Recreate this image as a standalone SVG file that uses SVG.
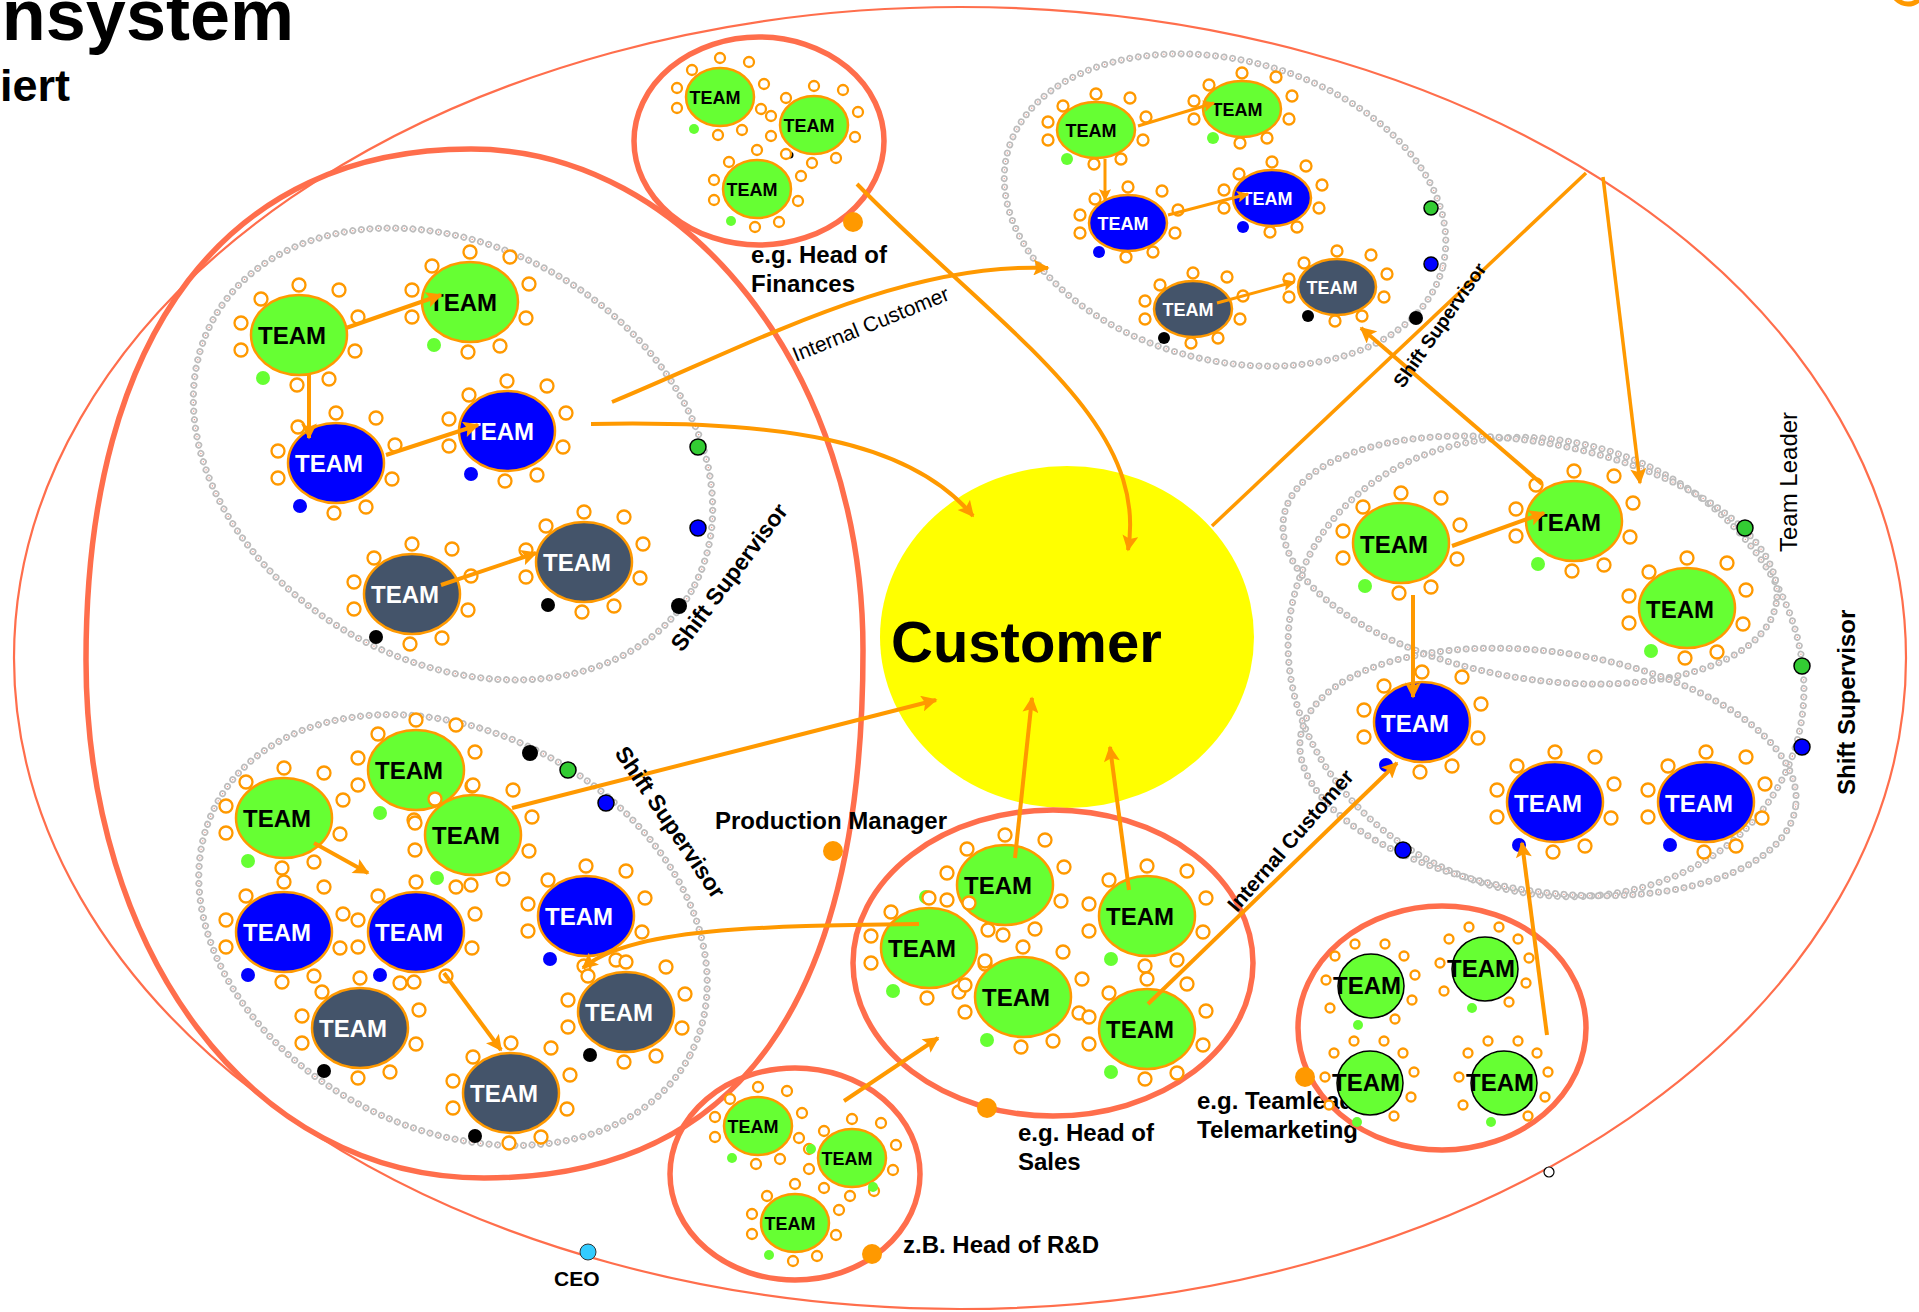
<svg xmlns="http://www.w3.org/2000/svg" width="1919" height="1312" viewBox="0 0 1919 1312">
<style>
.reg{fill:none;stroke:#FF6E4C;stroke-width:5.5}
.outer{fill:none;stroke:#FF6E4C;stroke-width:2.2}
.c1{fill:none;stroke:#BDBDBD;stroke-width:7;stroke-dasharray:0 8.6;stroke-linecap:round}
.c2{fill:none;stroke:#fff;stroke-width:3.6;stroke-dasharray:0 8.6;stroke-linecap:round}
.c3{fill:none;stroke:#F08A7A;stroke-width:1.3;stroke-dasharray:0 8.6;stroke-linecap:round}
.pet circle{fill:#fff;stroke:#FF9900;stroke-width:2.3}
.tg{fill:#66FF33;stroke:#FF9900;stroke-width:2.5}
.tb{fill:#0000FF;stroke:#FF9900;stroke-width:2.5}
.ts{fill:#44546A;stroke:#FF9900;stroke-width:2.5}
.tk{fill:#66FF33;stroke:#000;stroke-width:1.5}
.dg{fill:#66FF33}.db{fill:#0000FF}.dk{fill:#000}
.sg{fill:#33CC33;stroke:#000;stroke-width:1.5}.sb{fill:#0000FF;stroke:#000;stroke-width:1.5}.sk{fill:#000}
.mgr{fill:#FF9900}
.tx{font-family:"Liberation Sans",Arial,sans-serif;font-weight:bold;text-anchor:middle;fill:#000}
.tL{font-size:24px}.tS{font-size:18px}
.w{fill:#fff}
.lb{font-family:"Liberation Sans",Arial,sans-serif;font-weight:bold;font-size:24px;fill:#000}
.lr{font-family:"Liberation Sans",Arial,sans-serif;font-size:24px;fill:#000}
.con{fill:none;stroke:#FF9900;stroke-width:4}
.thin{stroke-width:3}
</style>
<defs>
<marker id="ah" viewBox="0 0 10 10" refX="9" refY="5" markerWidth="18" markerHeight="16" markerUnits="userSpaceOnUse" orient="auto"><path d="M0,0 L10,5 L0,10 L2,5 z" fill="#FF9900"/></marker>
<marker id="ahs" viewBox="0 0 10 10" refX="9" refY="5" markerWidth="13" markerHeight="12" markerUnits="userSpaceOnUse" orient="auto"><path d="M0,0 L10,5 L0,10 L2,5 z" fill="#FF9900"/></marker>
<g id="pL" class="pet"><circle cx="0" cy="-50" r="6.5"/><circle cx="40" cy="-45" r="6.5"/><circle cx="59" cy="-18" r="6.5"/><circle cx="56" cy="16" r="6.5"/><circle cx="30" cy="44" r="6.5"/><circle cx="-2" cy="50" r="6.5"/><circle cx="-58" cy="15" r="6.5"/><circle cx="-58" cy="-12" r="6.5"/><circle cx="-38" cy="-36" r="6.5"/></g>
<g id="pM" class="pet"><circle cx="-33" cy="-24" r="5.5"/><circle cx="0" cy="-36" r="5.5"/><circle cx="34" cy="-32" r="5.5"/><circle cx="50" cy="-13" r="5.5"/><circle cx="47" cy="10" r="5.5"/><circle cx="25" cy="29" r="5.5"/><circle cx="-2" cy="34" r="5.5"/><circle cx="-48" cy="10" r="5.5"/><circle cx="-48" cy="-8" r="5.5"/></g>
<g id="pS" class="pet"><circle cx="0" cy="-39" r="5"/><circle cx="29" cy="-35" r="5"/><circle cx="44" cy="-13" r="5"/><circle cx="41" cy="12" r="5"/><circle cx="22" cy="33" r="5"/><circle cx="-2" cy="38" r="5"/><circle cx="-43" cy="11" r="5"/><circle cx="-43" cy="-9" r="5"/><circle cx="-28" cy="-27" r="5"/></g>
<g id="pK" class="pet"><circle cx="-16" cy="-42" r="4.5"/><circle cx="14" cy="-42" r="4.5"/><circle cx="33" cy="-30" r="4.5"/><circle cx="44" cy="-11" r="4.5"/><circle cx="41" cy="14" r="4.5"/><circle cx="24" cy="33" r="4.5"/><circle cx="-41" cy="22" r="4.5"/><circle cx="-45" cy="-6" r="4.5"/><circle cx="-36" cy="-30" r="4.5"/></g>
<ellipse id="e1" cx="0" cy="0" rx="275" ry="207" transform="translate(453,454) rotate(30)"/>
<ellipse id="e2" cx="0" cy="0" rx="268" ry="198" transform="translate(453,930) rotate(28)"/>
<ellipse id="e3" cx="0" cy="0" rx="225" ry="150" transform="translate(1225,210) rotate(15)"/>
<ellipse id="e4" cx="0" cy="0" rx="250" ry="118" transform="translate(1530,560) rotate(10)"/>
<ellipse id="e5" cx="0" cy="0" rx="250" ry="120" transform="translate(1548,772) rotate(8)"/>
<ellipse id="e6" cx="0" cy="0" rx="262" ry="225" transform="translate(1546,667) rotate(20)"/>
</defs>

<g id="title">
<text class="lb" x="294" y="40" text-anchor="end" style="font-size:72px">nsystem</text>
<text class="lb" x="70" y="101" text-anchor="end" style="font-size:45px">iert</text>
</g>

<g id="company">
<ellipse class="outer" cx="960" cy="658" rx="946" ry="651"/>
<circle cx="1908" cy="-12" r="16" fill="none" stroke="#FF9900" stroke-width="5"/>
<circle cx="588" cy="1252" r="8" fill="#33CCFF" stroke="#333" stroke-width="1"/>
<circle cx="1549" cy="1172" r="5" fill="#fff" stroke="#000" stroke-width="1.2"/>
</g>

<g id="production">
<path class="reg" d="M471,149 C688,149 863,374 863,650 C863,1000 740,1178 484,1178 C250,1178 86,950 86,660 C86,330 230,149 471,149 Z"/>
<circle class="mgr" cx="833" cy="851" r="10"/>
</g>

<g id="shift-groups">
<use href="#e1" class="c1"/><use href="#e1" class="c2"/><use href="#e1" class="c3"/>
<use href="#e2" class="c1"/><use href="#e2" class="c2"/><use href="#e2" class="c3"/>
<use href="#e3" class="c1"/><use href="#e3" class="c2"/><use href="#e3" class="c3"/>
<use href="#e6" class="c1"/><use href="#e6" class="c2"/><use href="#e6" class="c3"/>
<use href="#e4" class="c1"/><use href="#e4" class="c2"/><use href="#e4" class="c3"/>
<use href="#e5" class="c1"/><use href="#e5" class="c2"/><use href="#e5" class="c3"/>
</g>

<g id="customer">
<ellipse cx="1067" cy="637" rx="187" ry="171" fill="#FFFF00"/>
<text class="lb" x="891" y="662" style="font-size:58px">Customer</text>
</g>

<g id="finance">
<ellipse class="reg" cx="759" cy="141" rx="125" ry="104"/>
<circle class="mgr" cx="853" cy="222" r="10"/>
<g id="F1" transform="translate(720,97)"><use href="#pS"/><ellipse class="tg" rx="34" ry="29"/><circle class="dg" cx="-26" cy="32" r="5"/><text class="tx tS" x="-5" y="7">TEAM</text></g>
<g id="F2" transform="translate(814,125)"><use href="#pS"/><ellipse class="tg" rx="34" ry="29"/><circle class="dk" cx="-24" cy="30" r="3.5"/><text class="tx tS" x="-5" y="7">TEAM</text></g>
<g id="F3" transform="translate(757,189)"><use href="#pS"/><ellipse class="tg" rx="34" ry="29"/><circle class="dg" cx="-26" cy="32" r="5"/><text class="tx tS" x="-5" y="7">TEAM</text></g>
</g>

<g id="shift-upper-left">
<g id="B1" transform="translate(299,335)"><use href="#pL"/><ellipse class="tg" rx="48" ry="40"/><circle class="dg" cx="-36" cy="43" r="7"/><text class="tx tL" x="-7" y="9">TEAM</text></g>
<g id="B2" transform="translate(470,302)"><use href="#pL"/><ellipse class="tg" rx="48" ry="40"/><circle class="dg" cx="-36" cy="43" r="7"/><text class="tx tL" x="-7" y="9">TEAM</text></g>
<g id="B3" transform="translate(336,463)"><use href="#pL"/><ellipse class="tb" rx="48" ry="40"/><circle class="db" cx="-36" cy="43" r="7"/><text class="tx tL w" x="-7" y="9">TEAM</text></g>
<g id="B4" transform="translate(507,431)"><use href="#pL"/><ellipse class="tb" rx="48" ry="40"/><circle class="db" cx="-36" cy="43" r="7"/><text class="tx tL w" x="-7" y="9">TEAM</text></g>
<g id="B5" transform="translate(412,594)"><use href="#pL"/><ellipse class="ts" rx="48" ry="40"/><circle class="dk" cx="-36" cy="43" r="7"/><text class="tx tL w" x="-7" y="9">TEAM</text></g>
<g id="B6" transform="translate(584,562)"><use href="#pL"/><ellipse class="ts" rx="48" ry="40"/><circle class="dk" cx="-36" cy="43" r="7"/><text class="tx tL w" x="-7" y="9">TEAM</text></g>
<circle class="sg" cx="698" cy="447" r="8"/><circle class="sb" cx="698" cy="528" r="8"/><circle class="sk" cx="679" cy="606" r="8"/>
</g>

<g id="shift-lower-left">
<g id="L1" transform="translate(284,818)"><use href="#pL"/><ellipse class="tg" rx="48" ry="40"/><circle class="dg" cx="-36" cy="43" r="7"/><text class="tx tL" x="-7" y="9">TEAM</text></g>
<g id="L2" transform="translate(416,770)"><use href="#pL"/><ellipse class="tg" rx="48" ry="40"/><circle class="dg" cx="-36" cy="43" r="7"/><text class="tx tL" x="-7" y="9">TEAM</text></g>
<g id="L3" transform="translate(473,835)"><use href="#pL"/><ellipse class="tg" rx="48" ry="40"/><circle class="dg" cx="-36" cy="43" r="7"/><text class="tx tL" x="-7" y="9">TEAM</text></g>
<g id="L4" transform="translate(284,932)"><use href="#pL"/><ellipse class="tb" rx="48" ry="40"/><circle class="db" cx="-36" cy="43" r="7"/><text class="tx tL w" x="-7" y="9">TEAM</text></g>
<g id="L5" transform="translate(416,932)"><use href="#pL"/><ellipse class="tb" rx="48" ry="40"/><circle class="db" cx="-36" cy="43" r="7"/><text class="tx tL w" x="-7" y="9">TEAM</text></g>
<g id="L6" transform="translate(586,916)"><use href="#pL"/><ellipse class="tb" rx="48" ry="40"/><circle class="db" cx="-36" cy="43" r="7"/><text class="tx tL w" x="-7" y="9">TEAM</text></g>
<g id="L7" transform="translate(360,1028)"><use href="#pL"/><ellipse class="ts" rx="48" ry="40"/><circle class="dk" cx="-36" cy="43" r="7"/><text class="tx tL w" x="-7" y="9">TEAM</text></g>
<g id="L8" transform="translate(626,1012)"><use href="#pL"/><ellipse class="ts" rx="48" ry="40"/><circle class="dk" cx="-36" cy="43" r="7"/><text class="tx tL w" x="-7" y="9">TEAM</text></g>
<g id="L9" transform="translate(511,1093)"><use href="#pL"/><ellipse class="ts" rx="48" ry="40"/><circle class="dk" cx="-36" cy="43" r="7"/><text class="tx tL w" x="-7" y="9">TEAM</text></g>
<circle class="sk" cx="530" cy="753" r="8"/><circle class="sg" cx="568" cy="770" r="8"/><circle class="sb" cx="606" cy="803" r="8"/>
</g>

<g id="shift-top-right">
<g id="T1" transform="translate(1096,130)"><use href="#pM"/><ellipse class="tg" rx="39" ry="28"/><circle class="dg" cx="-29" cy="29" r="6"/><text class="tx tS" x="-5" y="7">TEAM</text></g>
<g id="T2" transform="translate(1242,109)"><use href="#pM"/><ellipse class="tg" rx="39" ry="28"/><circle class="dg" cx="-29" cy="29" r="6"/><text class="tx tS" x="-5" y="7">TEAM</text></g>
<g id="T3" transform="translate(1128,223)"><use href="#pM"/><ellipse class="tb" rx="39" ry="28"/><circle class="db" cx="-29" cy="29" r="6"/><text class="tx tS w" x="-5" y="7">TEAM</text></g>
<g id="T4" transform="translate(1272,198)"><use href="#pM"/><ellipse class="tb" rx="39" ry="28"/><circle class="db" cx="-29" cy="29" r="6"/><text class="tx tS w" x="-5" y="7">TEAM</text></g>
<g id="T5" transform="translate(1193,309)"><use href="#pM"/><ellipse class="ts" rx="39" ry="28"/><circle class="dk" cx="-29" cy="29" r="6"/><text class="tx tS w" x="-5" y="7">TEAM</text></g>
<g id="T6" transform="translate(1337,287)"><use href="#pM"/><ellipse class="ts" rx="39" ry="28"/><circle class="dk" cx="-29" cy="29" r="6"/><text class="tx tS w" x="-5" y="7">TEAM</text></g>
<circle class="sg" cx="1431" cy="208" r="7"/><circle class="sb" cx="1431" cy="264" r="7"/><circle class="sk" cx="1416" cy="318" r="7"/>
</g>

<g id="shift-right">
<g id="R1" transform="translate(1401,543)"><use href="#pL"/><ellipse class="tg" rx="48" ry="40"/><circle class="dg" cx="-36" cy="43" r="7"/><text class="tx tL" x="-7" y="10">TEAM</text></g>
<g id="R2" transform="translate(1574,521)"><use href="#pL"/><ellipse class="tg" rx="48" ry="40"/><circle class="dg" cx="-36" cy="43" r="7"/><text class="tx tL" x="-7" y="10">TEAM</text></g>
<g id="R3" transform="translate(1687,608)"><use href="#pL"/><ellipse class="tg" rx="48" ry="40"/><circle class="dg" cx="-36" cy="43" r="7"/><text class="tx tL" x="-7" y="10">TEAM</text></g>
<g id="R4" transform="translate(1422,722)"><use href="#pL"/><ellipse class="tb" rx="48" ry="40"/><circle class="db" cx="-36" cy="43" r="7"/><text class="tx tL w" x="-7" y="10">TEAM</text></g>
<g id="R5" transform="translate(1555,802)"><use href="#pL"/><ellipse class="tb" rx="48" ry="40"/><circle class="db" cx="-36" cy="43" r="7"/><text class="tx tL w" x="-7" y="10">TEAM</text></g>
<g id="R6" transform="translate(1706,802)"><use href="#pL"/><ellipse class="tb" rx="48" ry="40"/><circle class="db" cx="-36" cy="43" r="7"/><text class="tx tL w" x="-7" y="10">TEAM</text></g>
<circle class="sg" cx="1745" cy="528" r="8"/><circle class="sg" cx="1802" cy="666" r="8"/><circle class="sb" cx="1802" cy="747" r="8"/><circle class="sb" cx="1403" cy="850" r="8"/>
</g>

<g id="sales">
<ellipse class="reg" cx="1053" cy="963" rx="200" ry="153"/>
<circle class="mgr" cx="987" cy="1108" r="10"/>
<g id="S1" transform="translate(1005,885)"><use href="#pL"/><ellipse class="tg" rx="48" ry="40"/><circle class="dg" cx="-79" cy="12" r="7"/><text class="tx tL" x="-7" y="9">TEAM</text></g>
<g id="S2" transform="translate(1147,916)"><use href="#pL"/><ellipse class="tg" rx="48" ry="40"/><circle class="dg" cx="-36" cy="43" r="7"/><text class="tx tL" x="-7" y="9">TEAM</text></g>
<g id="S3" transform="translate(929,948)"><use href="#pL"/><ellipse class="tg" rx="48" ry="40"/><circle class="dg" cx="-36" cy="43" r="7"/><text class="tx tL" x="-7" y="9">TEAM</text></g>
<circle class="dk" cx="964" cy="984" r="6"/>
<g id="S4" transform="translate(1023,997)"><use href="#pL"/><ellipse class="tg" rx="48" ry="40"/><circle class="dg" cx="-36" cy="43" r="7"/><text class="tx tL" x="-7" y="9">TEAM</text></g>
<g id="S5" transform="translate(1147,1029)"><use href="#pL"/><ellipse class="tg" rx="48" ry="40"/><circle class="dg" cx="-36" cy="43" r="7"/><text class="tx tL" x="-7" y="9">TEAM</text></g>
</g>

<g id="rnd">
<ellipse class="reg" cx="795" cy="1174" rx="125" ry="106"/>
<circle class="mgr" cx="872" cy="1254" r="10"/>
<g id="D1" transform="translate(758,1126)"><use href="#pS"/><ellipse class="tg" rx="34" ry="29"/><circle class="dg" cx="-26" cy="32" r="5"/><text class="tx tS" x="-5" y="7">TEAM</text></g>
<g id="D2" transform="translate(852,1158)"><use href="#pS"/><ellipse class="tg" rx="34" ry="29"/><circle class="dg" cx="-41" cy="-9" r="5"/><circle class="dg" cx="21" cy="29" r="5"/><text class="tx tS" x="-5" y="7">TEAM</text></g>
<g id="D3" transform="translate(795,1223)"><use href="#pS"/><ellipse class="tg" rx="34" ry="29"/><circle class="dg" cx="-26" cy="32" r="5"/><text class="tx tS" x="-5" y="7">TEAM</text></g>
</g>

<g id="telemarketing">
<text class="lb" x="1197" y="1109">e.g. Teamleader</text>
<text class="lb" x="1197" y="1138">Telemarketing</text>
<ellipse class="reg" cx="1442" cy="1028" rx="144" ry="122"/>
<circle class="mgr" cx="1305" cy="1077" r="10"/>
<g id="K1" transform="translate(1371,986)"><use href="#pK"/><ellipse class="tk" rx="33" ry="32"/><circle class="dg" cx="-13" cy="39" r="5"/><text class="tx tL" x="-4" y="8">TEAM</text></g>
<g id="K2" transform="translate(1485,969)"><use href="#pK"/><ellipse class="tk" rx="33" ry="32"/><circle class="dg" cx="-13" cy="39" r="5"/><text class="tx tL" x="-4" y="8">TEAM</text></g>
<g id="K3" transform="translate(1370,1083)"><use href="#pK"/><ellipse class="tk" rx="33" ry="32"/><circle class="dg" cx="-13" cy="39" r="5"/><text class="tx tL" x="-4" y="8">TEAM</text></g>
<g id="K4" transform="translate(1504,1083)"><use href="#pK"/><ellipse class="tk" rx="33" ry="32"/><circle class="dg" cx="-13" cy="39" r="5"/><text class="tx tL" x="-4" y="8">TEAM</text></g>
</g>

<g id="connectors">
<path class="con" marker-end="url(#ah)" d="M346,328 L441,295"/>
<path class="con" marker-end="url(#ah)" d="M309,375 L309,438"/>
<path class="con" marker-end="url(#ah)" d="M386,455 L478,425"/>
<path class="con" marker-end="url(#ah)" d="M441,585 L536,553"/>
<path class="con thin" marker-end="url(#ahs)" d="M1138,126 L1214,103"/>
<path class="con thin" marker-end="url(#ahs)" d="M1105,159 L1105,200"/>
<path class="con thin" marker-end="url(#ahs)" d="M1168,215 L1248,194"/>
<path class="con thin" marker-end="url(#ahs)" d="M1217,303 L1294,282"/>
<path class="con" marker-end="url(#ah)" d="M1452,546 L1544,513"/>
<path class="con" marker-end="url(#ah)" d="M1413,595 L1413,697"/>
<path class="con" marker-end="url(#ah)" d="M314,843 L368,873"/>
<path class="con" marker-end="url(#ah)" d="M444,973 L501,1050"/>
<path class="con" marker-end="url(#ah)" d="M591,424 C780,420 910,440 973,516"/>
<path class="con" marker-end="url(#ah)" d="M612,402 C750,345 900,262 1048,268"/>
<path class="con" marker-end="url(#ah)" d="M857,184 C1000,330 1150,420 1128,550"/>
<path class="con" marker-end="url(#ah)" d="M512,808 L936,700"/>
<path class="con" marker-end="url(#ah)" d="M919,924 C760,926 630,928 583,968"/>
<path class="con" marker-end="url(#ah)" d="M1015,858 L1032,698"/>
<path class="con" marker-end="url(#ah)" d="M1129,890 L1110,747"/>
<path class="con" marker-end="url(#ah)" d="M1148,1004 L1397,763"/>
<path class="con" marker-end="url(#ah)" d="M844,1101 L938,1038"/>
<path class="con" marker-end="url(#ah)" d="M1547,1035 L1522,843"/>
<path class="con" style="stroke-width:3.5" d="M1212,526 L1586,173"/>
<path class="con" style="stroke-width:3.5" marker-end="url(#ah)" d="M1603,177 L1640,483"/>
<path class="con" marker-end="url(#ah)" d="M1542,484 L1361,328"/>
</g>

<g id="labels">
<text class="lb" x="751" y="263">e.g. Head of</text>
<text class="lb" x="751" y="292">Finances</text>
<text class="lr" style="font-size:21px" transform="translate(796,362) rotate(-22)">Internal Customer</text>
<text class="lb" style="font-size:23px" transform="translate(682,653) rotate(-53)">Shift Supervisor</text>
<text class="lb" style="font-size:23px" transform="translate(614,753) rotate(56)">Shift Supervisor</text>
<text class="lb" style="font-size:19px" transform="translate(1403,389) rotate(-55)">Shift Supervisor</text>
<text class="lr" transform="translate(1797,552) rotate(-90)">Team Leader</text>
<text class="lb" transform="translate(1855,795) rotate(-90)">Shift Supervisor</text>
<text class="lb" x="715" y="829">Production Manager</text>
<text class="lb" x="1018" y="1141">e.g. Head of</text>
<text class="lb" x="1018" y="1170">Sales</text>
<text class="lb" x="903" y="1253">z.B. Head of R&amp;D</text>
<text class="lb" style="font-size:21px" x="554" y="1286">CEO</text>
<text class="lb" style="font-size:21px" transform="translate(1237,913) rotate(-49)">Internal Customer</text>
</g>
</svg>
